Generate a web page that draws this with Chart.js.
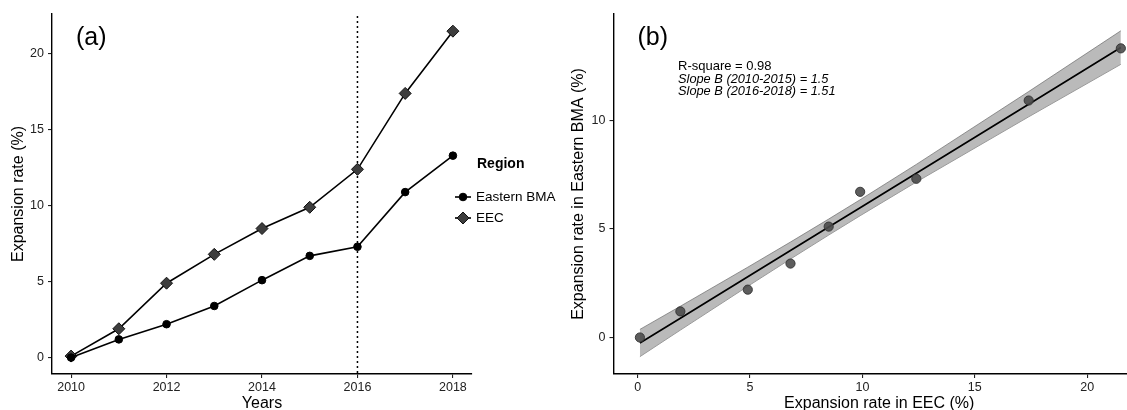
<!DOCTYPE html>
<html><head><meta charset="utf-8">
<script src="https://cdn.jsdelivr.net/npm/chart.js@4.4.1/dist/chart.umd.min.js"></script>
<style>
html,body{margin:0;padding:0;background:#fff;overflow:hidden;width:1127px;height:410px;position:relative}
#ca{position:absolute;left:0;top:0}
#cb{position:absolute;left:540px;top:0}
</style></head><body>
<canvas id="ca" width="565" height="410"></canvas>
<canvas id="cb" width="620" height="410"></canvas>
<script>
// ---- data ----
const years      = [2010, 2011, 2012, 2013, 2014, 2015, 2016, 2017, 2018];
const eastBMA    = [0, 1.2, 2.2, 3.4, 5.1, 6.7, 7.3, 10.9, 13.3];
const eec        = [0.1, 1.9, 4.9, 6.8, 8.5, 9.9, 12.4, 17.4, 21.5];
const yearTicks  = [2010, 2012, 2014, 2016, 2018];
const rateTicks  = [0, 5, 10, 15, 20];
const eecTicks   = [0, 5, 10, 15, 20];
const bmaTicks   = [0, 5, 10];
const breakYear  = 2016;
const seriesNames = ['Eastern BMA', 'EEC'];
const legendTitle = 'Region';
const statLines  = ['R-square = 0.98', 'Slope B (2010-2015) = 1.5', 'Slope B (2016-2018) = 1.51'];
const T_CRIT = 2.365; // t(0.975, df = 7)

const FAM = '"Liberation Sans", Arial, Helvetica, sans-serif';
Chart.defaults.font.family = FAM;
Chart.defaults.animation = false;

// ---- linear fit + 95% confidence band (geom_smooth(method="lm")) ----
function lmFit(xs, ys) {
  const n = xs.length;
  const mx = xs.reduce((a, b) => a + b, 0) / n;
  const my = ys.reduce((a, b) => a + b, 0) / n;
  let sxx = 0, sxy = 0;
  xs.forEach((x, i) => { sxx += (x - mx) ** 2; sxy += (x - mx) * (ys[i] - my); });
  const b = sxy / sxx, a = my - b * mx;
  let sse = 0;
  xs.forEach((x, i) => { sse += (ys[i] - (a + b * x)) ** 2; });
  const s = Math.sqrt(sse / (n - 2));
  return { a, b, s, sxx, mx, n };
}
const fit = lmFit(eec, eastBMA);
const xsSorted = eec.slice().sort((p, q) => p - q);
const fitPts = xsSorted.map(x => ({ x, y: fit.a + fit.b * x }));
const halfW = x => T_CRIT * fit.s * Math.sqrt(1 / fit.n + (x - fit.mx) ** 2 / fit.sxx);
const upperPts = xsSorted.map(x => ({ x, y: fit.a + fit.b * x + halfW(x) }));
const lowerPts = xsSorted.map(x => ({ x, y: fit.a + fit.b * x - halfW(x) }));

const tickFont = { size: 12.5, family: FAM };
const titleFont = { size: 16, family: FAM, lineHeight: 1 };
const TICK_COL = '#222';

function axisCommon(ticksArr, fmt) {
  return {
    type: 'linear',
    afterBuildTicks: s => { s.ticks = ticksArr.map(v => ({ value: v })); },
    grid: { display: true, drawOnChartArea: false, drawTicks: true, tickLength: 4, color: '#222', lineWidth: 1.1 },
    border: { display: true, color: '#000', width: 1.4 },
    ticks: { font: tickFont, color: TICK_COL, autoSkip: false, maxRotation: 0, callback: fmt || (v => String(v)) }
  };
}

// ---- plugins ----
const breakLine = {
  id: 'breakLine',
  beforeDatasetsDraw(chart) {
    const { ctx, chartArea, scales } = chart;
    const x = scales.x.getPixelForValue(breakYear);
    ctx.save();
    ctx.strokeStyle = '#000'; ctx.lineWidth = 1.5; ctx.setLineDash([2, 3]);
    ctx.beginPath(); ctx.moveTo(x, chartArea.top + 2); ctx.lineTo(x, chartArea.bottom); ctx.stroke();
    ctx.restore();
  }
};
const regionLegend = {
  id: 'regionLegend',
  afterDraw(chart) {
    const ctx = chart.ctx;
    const ca = chart.chartArea;
    const kx = ca.right - 9; // key centre
    ctx.save();
    ctx.textBaseline = 'middle'; ctx.textAlign = 'left';
    ctx.fillStyle = '#000'; ctx.font = 'bold 14px ' + FAM;
    ctx.fillText(legendTitle, kx + 14, 164);
    chart.data.datasets.forEach((ds, i) => {
      const y = 197 + i * 21;
      ctx.strokeStyle = ds.borderColor; ctx.lineWidth = ds.borderWidth;
      ctx.beginPath(); ctx.moveTo(kx - 8, y); ctx.lineTo(kx + 8, y); ctx.stroke();
      ctx.fillStyle = ds.pointBackgroundColor; ctx.strokeStyle = ds.pointBorderColor;
      ctx.lineWidth = ds.pointBorderWidth;
      Chart.helpers.drawPoint(ctx, { pointStyle: ds.pointStyle, radius: ds.pointRadius, rotation: 0, borderWidth: ds.pointBorderWidth }, kx, y);
      ctx.fillStyle = '#000'; ctx.font = '13.5px ' + FAM;
      ctx.fillText(ds.label, kx + 13, y);
    });
    ctx.restore();
  }
};
function panelLabel(text, lines) {
  return {
    id: 'panelLabel',
    afterDraw(chart) {
      const { ctx, chartArea } = chart;
      ctx.save();
      ctx.textBaseline = 'middle'; ctx.textAlign = 'left'; ctx.fillStyle = '#000';
      ctx.font = '25px ' + FAM;
      ctx.fillText(text, chartArea.left + 24, chartArea.top + 24);
      if (lines) {
        ctx.font = '13px ' + FAM;
        ctx.fillText(lines[0], chartArea.left + 64.5, 66);
        ctx.font = 'italic 12.8px ' + FAM;
        ctx.fillText(lines[1], chartArea.left + 64.5, 79);
        ctx.fillText(lines[2], chartArea.left + 64.5, 91.5);
      }
      ctx.restore();
    }
  };
}

// ---- panel (a) ----
const xa = axisCommon(yearTicks);
Object.assign(xa, { min: 2009.6, max: 2018.4, afterFit: s => { s.height = 36; } });
xa.ticks.padding = 2;
xa.title = { display: true, text: 'Years', color: '#000', font: titleFont, padding: { top: 0, bottom: -1.5 } };
const ya = axisCommon(rateTicks);
Object.assign(ya, { min: -1.08, max: 22.63, afterFit: s => { s.width = 52; } });
ya.ticks.padding = 4;
ya.title = { display: true, text: 'Expansion rate (%)', color: '#000', font: titleFont, padding: { top: 11, bottom: 0 } };

new Chart(document.getElementById('ca'), {
  type: 'line',
  data: {
    datasets: [
      { label: seriesNames[0], data: years.map((y, i) => ({ x: y, y: eastBMA[i] })),
        borderColor: '#000', borderWidth: 1.6, pointStyle: 'circle', pointRadius: 3.8,
        pointBackgroundColor: '#000', pointBorderColor: '#000', pointBorderWidth: 1, tension: 0 },
      { label: seriesNames[1], data: years.map((y, i) => ({ x: y, y: eec[i] })),
        borderColor: '#000', borderWidth: 1.6, pointStyle: 'rectRot', pointRadius: 6,
        pointBackgroundColor: '#3d3d3d', pointBorderColor: '#111', pointBorderWidth: 1, tension: 0 }
    ]
  },
  options: {
    responsive: false, animation: false,
    layout: { padding: { left: 0, right: 93, top: 14, bottom: 0 } },
    plugins: { legend: { display: false }, tooltip: { enabled: false } },
    scales: { x: xa, y: ya }
  },
  plugins: [breakLine, regionLegend, panelLabel('(a)')]
});

// ---- panel (b) ----
const xb = axisCommon(eecTicks);
Object.assign(xb, { min: -1.075, max: 22.575, afterFit: s => { s.height = 36; } });
xb.ticks.padding = 2;
xb.title = { display: true, text: 'Expansion rate in EEC (%)', color: '#000', font: titleFont, padding: { top: 0, bottom: -1.5 } };
const yb = axisCommon(bmaTicks);
Object.assign(yb, { min: -1.68, max: 14.88, afterFit: s => { s.width = 73.5; } });
yb.ticks.padding = 4;
yb.title = { display: true, text: 'Expansion rate in Eastern BMA (%)', color: '#000', font: titleFont, padding: { top: 31, bottom: 0 } };

new Chart(document.getElementById('cb'), {
  type: 'line',
  data: {
    datasets: [
      { label: 'points', data: eec.map((x, i) => ({ x, y: eastBMA[i] })), showLine: false,
        pointStyle: 'circle', pointRadius: 4.6, pointBackgroundColor: 'rgba(75,75,75,0.9)',
        pointBorderColor: 'rgba(50,50,50,0.9)', pointBorderWidth: 1, order: 0 },
      { label: 'fit', data: fitPts, borderColor: '#000', borderWidth: 1.7, pointRadius: 0, tension: 0, order: 1 },
      { label: 'upper', data: upperPts, borderColor: 'rgba(110,110,110,0.9)', borderWidth: 0.8, pointRadius: 0,
        tension: 0, fill: '+1', backgroundColor: 'rgba(160,160,160,0.72)', order: 2 },
      { label: 'lower', data: lowerPts, borderColor: 'rgba(110,110,110,0.9)', borderWidth: 0.8, pointRadius: 0,
        tension: 0, fill: false, order: 3 }
    ]
  },
  options: {
    responsive: false, animation: false,
    layout: { padding: { left: 0, right: 15, top: 14, bottom: 0 } },
    plugins: { legend: { display: false }, tooltip: { enabled: false } },
    scales: { x: xb, y: yb }
  },
  plugins: [panelLabel('(b)', statLines)]
});
</script>
</body></html>
